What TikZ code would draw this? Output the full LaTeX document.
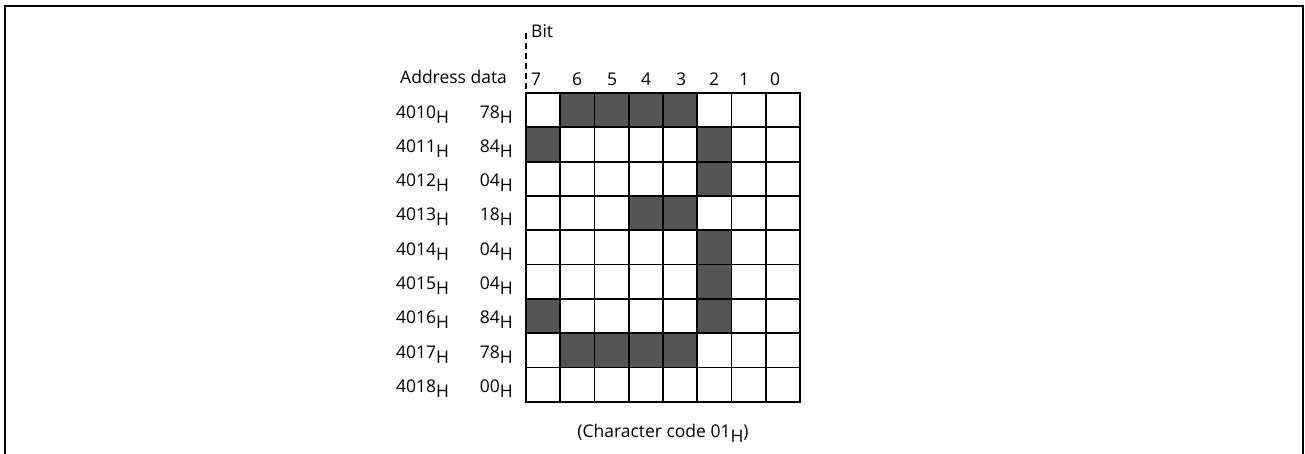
\documentclass[tikz,border=0pt]{standalone}
\usepackage{fontspec}
\setmainfont{Open Sans}
\usetikzlibrary{positioning}
\definecolor{dotfill}{HTML}{555555}
\newcommand{\hsub}[1]{#1\raisebox{-5pt}{H}}

\begin{document}
\begin{tikzpicture}[x=1pt,y=-1pt,line cap=rect,font=\fontsize{17.5}{20}\selectfont,
    lbl/.style={inner sep=0pt}]
  \useasboundingbox (0,0) rectangle (1305,453);
  \draw[line width=2pt] (5,453) -- (5,6) -- (1303,6) -- (1303,453);
  % bits that are set
  \foreach \r/\c in {0/1,0/2,0/3,0/4,1/0,1/5,2/5,3/3,3/4,4/5,5/5,6/0,6/5,7/1,7/2,7/3,7/4}
    \fill[dotfill] (526+34.25*\c,93+34.3*\r) rectangle ++(34.25,34.3);
  \foreach \i in {0,...,8}
    \draw[line width=1.8pt] (526+34.25*\i,93) -- ++(0,308.7);
  \foreach \j in {0,...,9}
    \draw[line width=1.8pt] (526,93+34.3*\j) -- ++(274,0);
  \draw[line width=1.6pt,dash pattern=on 6pt off 4pt,line cap=butt] (526,33) -- (526,93);
  \node[lbl,anchor=base west] (bit) at (531,37) {Bit};
  \foreach \b/\x in {7/536,6/577,5/612,4/646,3/681,2/714,1/744,0/775}
    \node[lbl,anchor=base] (bit\b) at (\x,85) {\b};
  \node[lbl,anchor=base west] (head) at (400,83) {Address data};
  \foreach \a/\d [count=\r from 0] in {4010/78,4011/84,4012/04,4013/18,4014/04,4015/04,4016/84,4017/78,4018/00} {
    \node[lbl,anchor=base west] (addr\r) at (396,118+34.3*\r) {\hsub{\a}};
    \node[lbl,anchor=base east] (data\r) at (513,118+34.3*\r) {\hsub{\d}};
  }
  \node[lbl,anchor=base] (caption) at (663,437) {(Character code \hsub{01})};
\end{tikzpicture}
\end{document}
